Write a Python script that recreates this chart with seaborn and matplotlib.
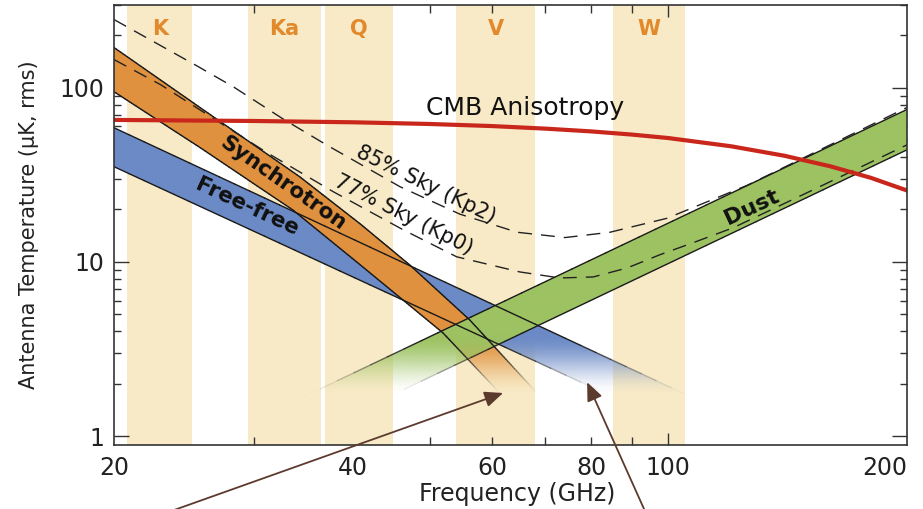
import numpy as np
import matplotlib
matplotlib.use("Agg")
import matplotlib.pyplot as plt
import seaborn as sns
from matplotlib.patches import Polygon
from matplotlib.collections import LineCollection
from matplotlib.colors import to_rgba
from matplotlib.ticker import NullFormatter

# WMAP radiometer bands (GHz)
band_names = ["K", "Ka", "Q", "V", "W"]
band_lo = [20.8, 29.5, 36.9, 54.0, 85.1]
band_hi = [25.1, 36.5, 45.0, 67.9, 105.0]

# CMB anisotropy, antenna temperature (uK rms)
cmb_freq = [20, 30, 40, 50, 60, 70, 80, 90, 100, 120, 140, 160, 180, 200]
cmb_temp = [65.3, 64.4, 63.3, 61.9, 60.2, 58.2, 56.1, 53.8, 51.4, 46.1, 40.7, 35.4, 30.4, 25.7]

# total foreground level outside the Kp2 mask (85% of sky)
kp2_freq = [20, 25.4, 28.3, 32.7, 37.2, 45.9, 54.6, 64.5, 74.1, 84.4, 99.6, 125.7, 158.5, 200]
kp2_temp = [246, 134, 101, 66, 46.5, 27, 18.8, 14.8, 13.8, 14.8, 17.8, 27.5, 46, 77]

# total foreground level outside the Kp0 mask (77% of sky)
kp0_freq = [20, 22.9, 31.2, 37.8, 46.3, 54.1, 65.0, 73.0, 80.4, 88.7, 97.6, 107.5, 120.7, 152.2, 200]
kp0_temp = [145, 104, 42.3, 25.3, 15.3, 10.7, 8.76, 8.09, 8.20, 9.23, 11.0, 12.9, 15.7, 25.9, 47.0]

# synchrotron band: upper and lower edges
sync_hi_freq = [20, 25.7, 34.3, 40.9, 47.2, 56.2, 68.3, 73.0]
sync_hi_temp = [170, 76.7, 30.8, 16.5, 9.61, 4.64, 1.77, 1.27]
sync_lo_freq = [20, 25.7, 33.6, 40.9, 52.0, 60.8, 65.0]
sync_lo_temp = [94.8, 45.2, 19.9, 9.61, 3.91, 1.84, 1.27]

# free-free band
ff_freq = [20, 110]
ff_hi_temp = [58.9, 1.58]
ff_lo_temp = [35.2, 0.98]

# thermal dust band
dust_freq = [30, 200]
dust_hi_temp = [1.23, 75]
dust_lo_temp = [0.72, 44]

# colours
BEIGE = "#F8EAC6"
BAND_TXT = "#E2892B"
SYNC_C = "#E0913F"
FF_C = "#6B8AC6"
DUST_C = "#9DC262"
CMB_C = "#C9271C"
EDGE_C = "#1a1a1a"
ARROW_C = "#5C3B2E"

YMIN, YMAX = 0.89, 300
# the foreground bands fade out between these antenna temperatures
FADE_FULL, FADE_ZERO = 3.8, 1.7

sns.set_theme(style="ticks")
plt.rcParams["font.family"] = ["DejaVu Sans"]

fig = plt.figure(figsize=(9.23, 5.09), dpi=100)
ax = fig.add_axes([0.1235, 0.1257, 0.8592, 0.8654])
ax.set_xscale("log")
ax.set_yscale("log")
ax.set_xlim(20, 200)
ax.set_ylim(YMIN, YMAX)
ax.set_autoscale_on(False)


def fade_alpha(temp):
    lt = np.log10(np.asarray(temp, dtype=float))
    s = (lt - np.log10(FADE_ZERO)) / (np.log10(FADE_FULL) - np.log10(FADE_ZERO))
    s = np.clip(s, 0, 1)
    return s * s * (3 - 2 * s)


def faded_edge(freq, temp, z=5):
    segs, cols = [], []
    base = np.array(to_rgba(EDGE_C))
    for i in range(len(freq) - 1):
        ff = np.geomspace(freq[i], freq[i + 1], 40)
        tt = np.geomspace(temp[i], temp[i + 1], 40)
        for j in range(len(ff) - 1):
            segs.append([(ff[j], tt[j]), (ff[j + 1], tt[j + 1])])
            c = base.copy()
            c[3] = fade_alpha(np.sqrt(tt[j] * tt[j + 1]))
            cols.append(c)
    lc = LineCollection(segs, colors=cols, linewidths=1.0, zorder=z,
                        capstyle="round")
    ax.add_collection(lc)


def faded_band(freq_hi, temp_hi, freq_lo, temp_lo, color, z):
    verts = list(zip(freq_hi, temp_hi)) + list(zip(freq_lo[::-1], temp_lo[::-1]))
    poly = Polygon(verts, closed=True, transform=ax.transData)
    rows = 500
    frac = np.linspace(0, 1, rows)
    temps = YMIN * (YMAX / YMIN) ** frac
    rgba = np.zeros((rows, 2, 4))
    rgba[..., :3] = to_rgba(color)[:3]
    rgba[..., 3] = fade_alpha(temps)[:, None]
    im = ax.imshow(rgba, extent=(0, 1, 0, 1), transform=ax.transAxes,
                   origin="lower", aspect="auto", interpolation="bilinear",
                   zorder=z)
    im.set_clip_path(poly)
    for f, t in ((freq_hi, temp_hi), (freq_lo, temp_lo)):
        faded_edge(f, t)


# frequency bands
for name, lo, hi in zip(band_names, band_lo, band_hi):
    ax.axvspan(lo, hi, color=BEIGE, lw=0, zorder=0)
    ax.text(np.sqrt(lo * hi), 218, name, ha="center", va="center",
            color=BAND_TXT, fontsize=15, fontweight="bold", zorder=8)

# foreground bands
faded_band(ff_freq, ff_hi_temp, ff_freq, ff_lo_temp, FF_C, 2)
faded_band(sync_hi_freq, sync_hi_temp, sync_lo_freq, sync_lo_temp, SYNC_C, 3)
faded_band(dust_freq, dust_hi_temp, dust_freq, dust_lo_temp, DUST_C, 4)

# sky-fraction foreground totals
for f, t in ((kp2_freq, kp2_temp), (kp0_freq, kp0_temp)):
    sns.lineplot(x=f, y=t, ax=ax, color="#222222", lw=1.0, zorder=6,
                 estimator=None, sort=False)
    ax.lines[-1].set_dashes([10, 6.5])

# CMB anisotropy
sns.lineplot(x=cmb_freq, y=cmb_temp, ax=ax, color=CMB_C, lw=3.0, zorder=7,
             estimator=None, sort=False)

ax.set_xlim(20, 200)
ax.set_ylim(YMIN, YMAX)

# labels on the curves
txt = dict(color="#111111", ha="center", va="center", zorder=9,
           rotation_mode="anchor")
ax.text(66.0, 76.7, "CMB Anisotropy", fontsize=18, **txt)
ax.text(49.5, 27.7, "85% Sky (Kp2)", fontsize=15, rotation=-26, **txt)
ax.text(46.3, 18.6, "77% Sky (Kp0)", fontsize=15, rotation=-27, **txt)
ax.text(32.7, 28.4, "Synchrotron", fontsize=15.5, fontweight="bold",
        rotation=-35, **txt)
ax.text(29.4, 20.7, "Free-free", fontsize=15.5, fontweight="bold",
        rotation=-25, **txt)
ax.text(127.5, 20.7, "Dust", fontsize=16, fontweight="bold", rotation=25, **txt)

# pointers to the faded ends of the spectra
arrow = dict(arrowstyle="-|>,head_length=0.7,head_width=0.3", color=ARROW_C,
             lw=1.3, shrinkA=0, shrinkB=0, mutation_scale=16)
ax.annotate("", xy=(61.9, 1.77), xycoords="data", xytext=(0.184, -0.005),
            textcoords="figure fraction", arrowprops=arrow,
            annotation_clip=False, zorder=12)
ax.annotate("", xy=(79.0, 2.04), xycoords="data", xytext=(0.699, -0.005),
            textcoords="figure fraction", arrowprops=arrow,
            annotation_clip=False, zorder=12)

# axes, ticks and labels
xticks = [20, 40, 60, 80, 100, 200]
ax.set_xticks(xticks, labels=[str(v) for v in xticks])
ax.set_xticks([30, 50, 70, 90], minor=True)
ax.xaxis.set_minor_formatter(NullFormatter())
ax.set_yticks([1, 10, 100], labels=["1", "10", "100"])
ax.set_yticks([2, 3, 4, 5, 6, 7, 8, 9, 20, 30, 40, 50, 60, 70, 80, 90, 200, 300],
              minor=True)
ax.yaxis.set_minor_formatter(NullFormatter())

ax.tick_params(which="both", direction="in", top=True, right=True,
               color="#333333", width=1.0, labelsize=17, labelcolor="#222222")
ax.tick_params(axis="x", which="both", length=6, pad=8)
ax.tick_params(axis="y", which="major", length=11, pad=7)
ax.tick_params(axis="y", which="minor", length=5)

for tick, v in zip(ax.xaxis.get_major_ticks(), xticks):
    if v in (20, 40, 200):
        tick.tick1line.set_visible(False)
        tick.tick2line.set_visible(False)
    if v == 100:
        tick.tick1line.set_markersize(8.5)
        tick.tick2line.set_markersize(8.5)

# keep the last frequency label inside the canvas
ax.get_xticklabels()[-1].set_horizontalalignment("right")

for s in ax.spines.values():
    s.set_linewidth(1.2)
    s.set_color("#333333")
    s.set_zorder(10)

ax.set_xlabel("Frequency (GHz)", fontsize=17, color="#222222")
ax.set_ylabel("Antenna Temperature (μK, rms)", fontsize=15, color="#222222")
ax.xaxis.set_label_coords(0.508, -0.084)
ax.yaxis.set_label_coords(-0.095, 0.5)

fig.savefig("out.png", dpi=100)
